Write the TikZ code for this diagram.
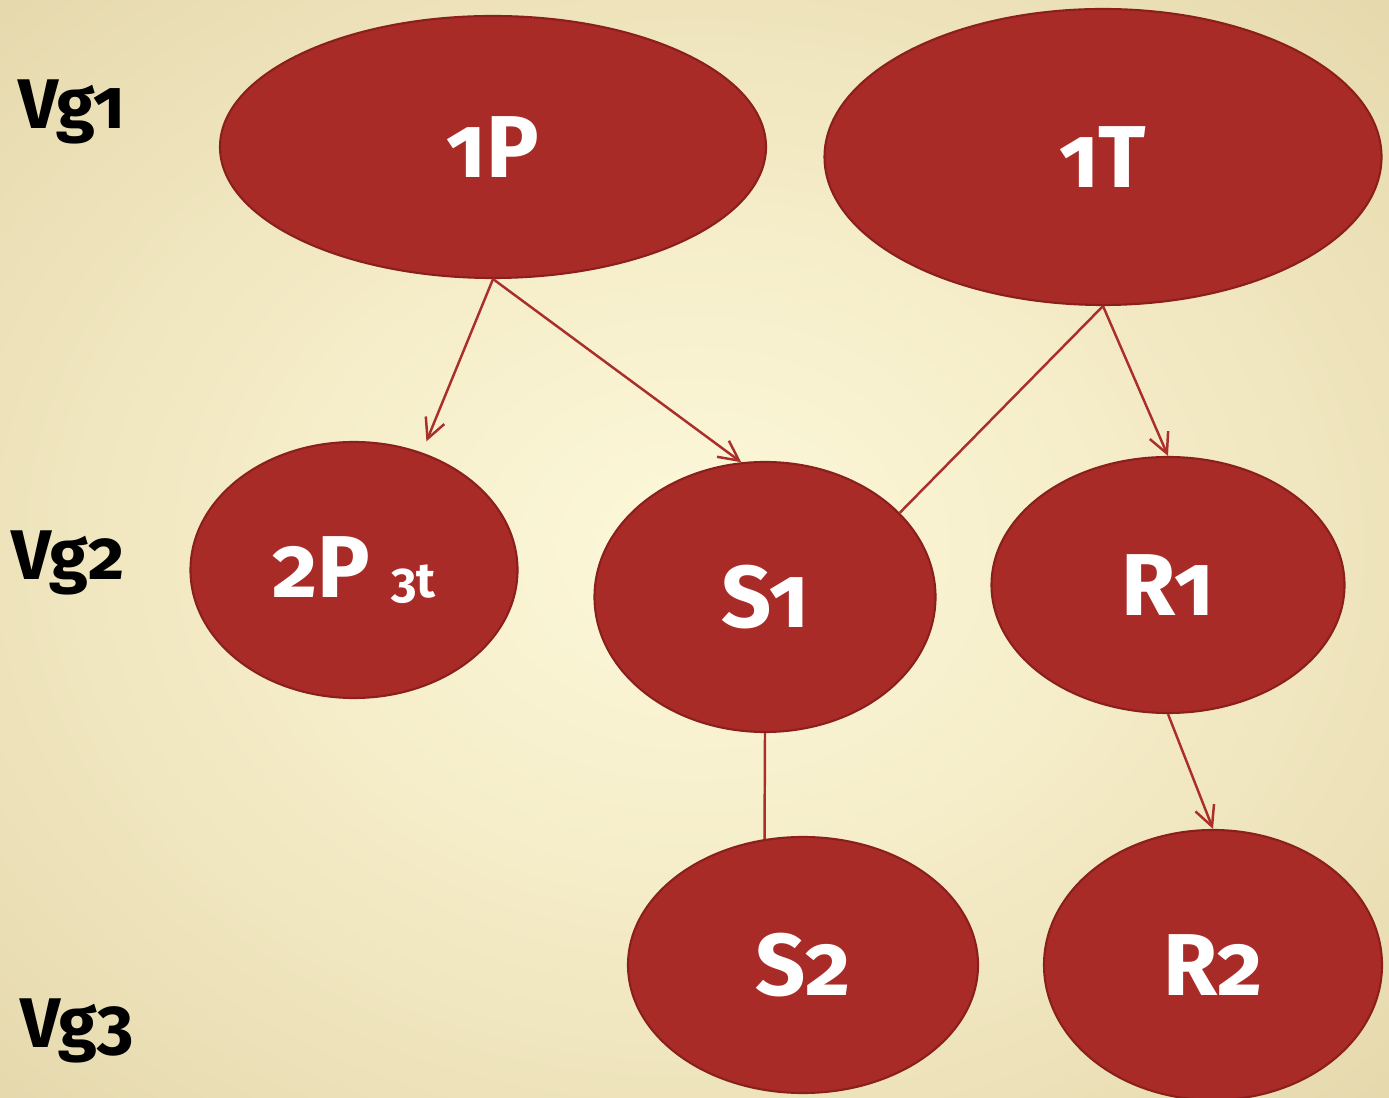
\documentclass[tikz,border=0pt]{standalone}
\usepackage{fontspec}
\setmainfont{Fira Sans}[Numbers=OldStyle]
\usetikzlibrary{arrows.meta,shapes.geometric}
\definecolor{blobred}{HTML}{A92B27}
\definecolor{blobedge}{HTML}{8A1F1C}
\definecolor{linkred}{HTML}{AA2E2A}
\definecolor{bgmid}{HTML}{FCF8DA}
\definecolor{bgone}{HTML}{F6EECA}
\definecolor{bgtwo}{HTML}{E9DDB3}
\definecolor{bgthree}{HTML}{DBCA9E}
\definecolor{bgedge}{HTML}{CDB687}
\pgfdeclareradialshading{parchment}{\pgfpoint{0bp}{0bp}}{color(0bp)=(bgmid); color(10bp)=(bgone); color(22bp)=(bgtwo); color(35bp)=(bgthree); color(50bp)=(bgedge)}
\tikzset{
  blob/.style={ellipse, draw=blobedge, line width=0.6pt, fill=blobred, text=white, inner sep=0pt, font=\bfseries\fontsize{25}{30}\selectfont},
  link/.style={draw=linkred, line width=0.7pt},
  arr/.style={link, -{Straight Barb[length=2mm,width=2mm]}},
  vglabel/.style={font=\bfseries\fontsize{20}{24}\selectfont}
}

\begin{document}
\begin{tikzpicture}
			%%%%% START %%%%%
			
			\useasboundingbox (0, 0) rectangle (13.89, 10.97);
			\clip (0, 0) rectangle (13.89, 10.97);
			\shade[shading=parchment] (-2.875, -2.272) rectangle (16.765, 13.242);
			
			\node[vglabel] (vg1) at (0.72, 9.85) {Vg1};
			\node[vglabel] (vg2) at (0.68, 5.34) {Vg2};
			\node[vglabel] (vg3) at (0.77, 0.66) {Vg3};
			
			\node[blob, minimum width=5.46cm, minimum height=2.62cm] (P1) at (4.93, 9.50) {1P};
			\node[blob, minimum width=5.57cm, minimum height=2.96cm] (T1) at (11.03, 9.40) {1T};
			
			\node[blob, minimum width=3.27cm, minimum height=2.56cm] (P2) at (3.54, 5.27) {2P {\fontsize{14}{16}\selectfont 3t}};
			\node[blob, minimum width=3.41cm, minimum height=2.70cm] (S1) at (7.65, 5.00) {S1};
			\node[blob, minimum width=3.53cm, minimum height=2.56cm] (R1) at (11.68, 5.12) {R1};
			
			\node[blob, minimum width=3.50cm, minimum height=2.56cm] (S2) at (8.03, 1.32) {S2};
			\node[blob, minimum width=3.38cm, minimum height=2.70cm] (R2) at (12.13, 1.32) {R2};
			
			\draw[arr, shorten >=1.2mm] (P1.south) -- (P2.60);
			\draw[arr] (P1.south) -- (S1.100);
			\draw[link] (T1.south) -- (S1.32);
			\draw[arr] (T1.south) -- (R1.north);
			\draw[link] (S1.south) -- (S2.107);
			\draw[arr] (R1.south) -- (R2.north);
			
			%%%%% END %%%%%
\end{tikzpicture}
\end{document}
